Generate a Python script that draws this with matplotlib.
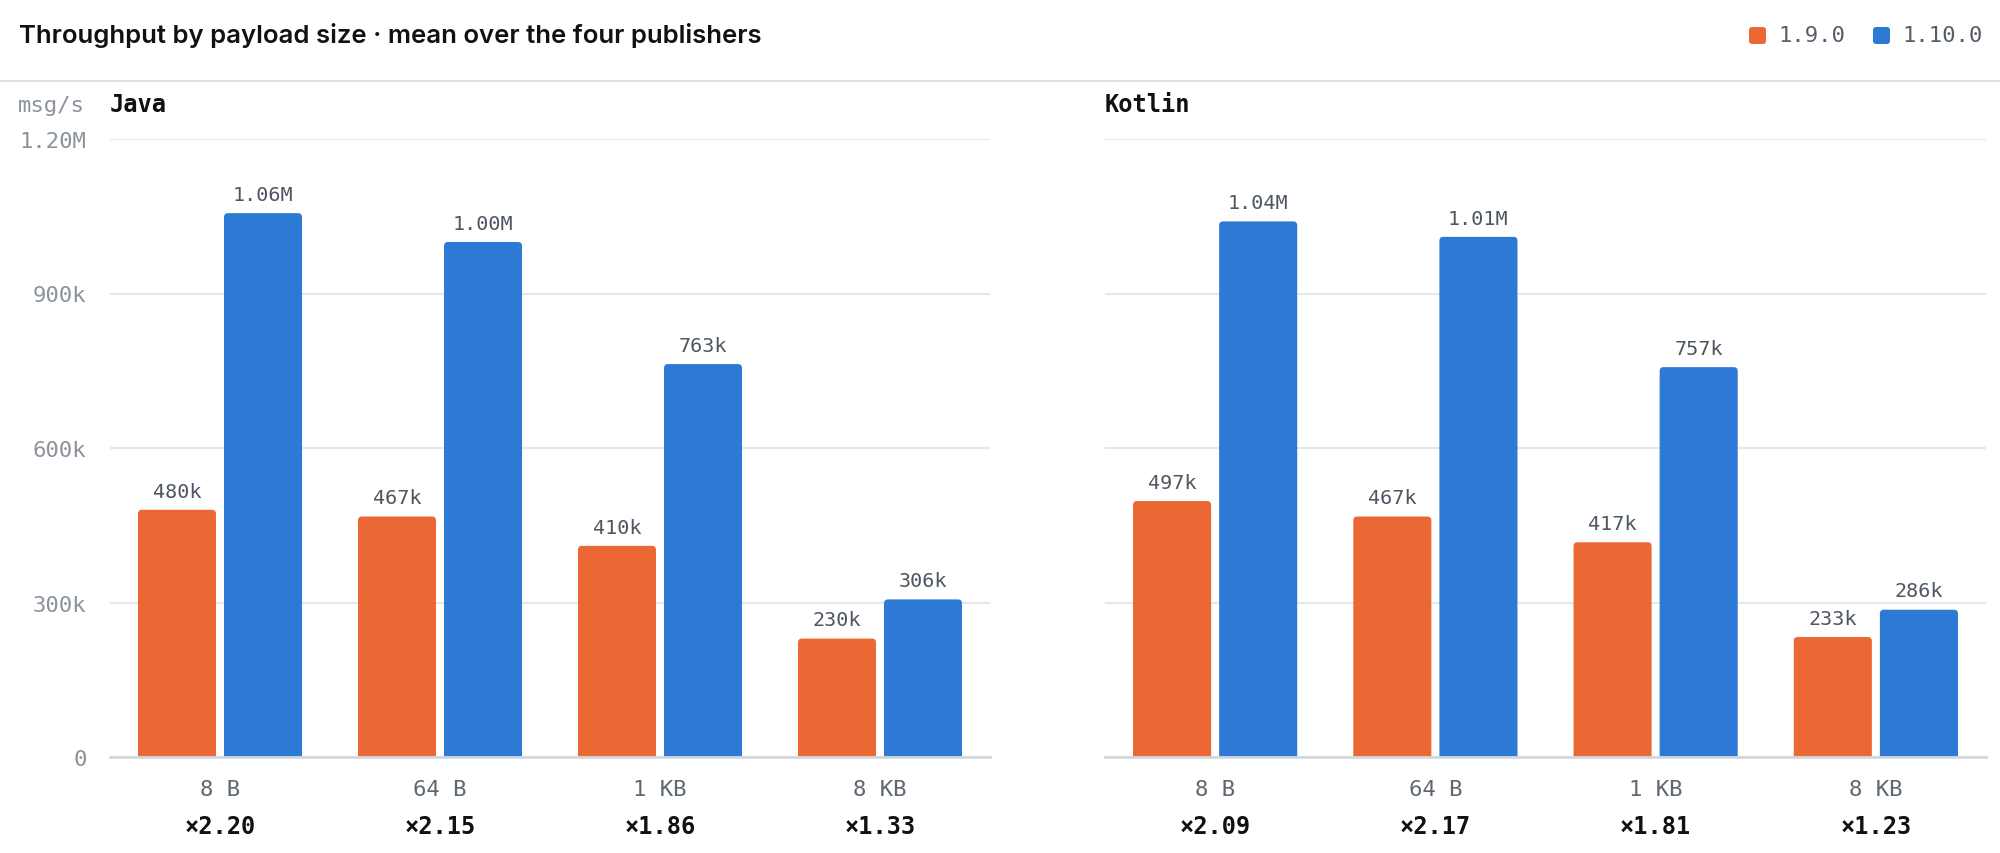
import matplotlib
matplotlib.use("Agg")
import matplotlib.pyplot as plt
from matplotlib.patches import FancyBboxPatch
from matplotlib.lines import Line2D
import numpy as np

# data
sizes = ["8 B", "64 B", "1 KB", "8 KB"]
versions = ["1.9.0", "1.10.0"]
java_old = [480e3, 467e3, 410e3, 230e3]
java_new = [1.056e6, 1.00e6, 763e3, 306e3]
java_ratio = [2.20, 2.15, 1.86, 1.33]
kotlin_old = [497e3, 467e3, 417e3, 233e3]
kotlin_new = [1.04e6, 1.01e6, 757e3, 286e3]
kotlin_ratio = [2.09, 2.17, 1.81, 1.23]
yticks = [0, 300e3, 600e3, 900e3, 1.2e6]
ytick_labels = ["0", "300k", "600k", "900k", "1.20M"]

ORANGE = "#eb6835"
BLUE = "#2c79d6"
MONO = "DejaVu Sans Mono"
W, H = 2000, 854


def fmt(v):
    if v >= 1e6:
        return f"{v/1e6:.2f}M"
    return f"{v/1e3:.0f}k"


def rounded_bars(ax, xs, vals, width, color):
    # bars with ~4px rounded top corners
    bw = ax.get_position().width * W
    bh = ax.get_position().height * H
    x_per_px = 4.0 / bw
    y_per_px = 1.2e6 / bh
    r = 4 * x_per_px
    aspect = y_per_px / x_per_px
    ry = 4 * y_per_px
    for x, v in zip(xs, vals):
        p = FancyBboxPatch((x - width / 2, -ry), width, v + ry,
                           boxstyle=f"round,pad=0,rounding_size={r}",
                           mutation_aspect=aspect, fc=color, ec="none", zorder=3)
        ax.add_patch(p)
        ax.annotate(fmt(v), (x, v), xytext=(0, 13.5), textcoords="offset points",
                    ha="center", va="center", fontsize=14.5, family=MONO,
                    color="#4e5661", zorder=4)


def draw_panel(ax, name, old, new, ratio, show_y):
    x = np.arange(len(sizes))
    off = 0.1955
    wid = 0.3545
    rounded_bars(ax, x - off, old, wid, ORANGE)
    rounded_bars(ax, x + off, new, wid, BLUE)
    ax.set_xlim(-0.5, len(sizes) - 0.5)
    ax.set_ylim(0, 1.2e6)
    ax.set_yticks(yticks)
    ax.grid(axis="y", color="#e4e7eb", lw=1.5, zorder=0)
    ax.set_axisbelow(True)
    for s in ["top", "right", "left"]:
        ax.spines[s].set_visible(False)
    ax.spines["bottom"].set_color("#d3d8de")
    ax.spines["bottom"].set_linewidth(2)
    ax.spines["bottom"].set_zorder(5)
    ax.tick_params(length=0)
    if show_y:
        ax.set_yticklabels(ytick_labels, family=MONO, fontsize=16, color="#8b939c")
        ax.tick_params(axis="y", pad=17)
    else:
        ax.set_yticklabels([])
    ax.set_xticks(x)
    ax.set_xticklabels([])
    for xi, lab, rt in zip(x, sizes, ratio):
        ax.annotate(lab, (xi, 0), xycoords=("data", "axes fraction"),
                    xytext=(0, -23), textcoords="offset points", ha="center",
                    va="center", fontsize=16, family=MONO, color="#5f6772")
        ax.annotate(f"\u00d7{rt:.2f}", (xi, 0), xycoords=("data", "axes fraction"),
                    xytext=(0, -49.5), textcoords="offset points", ha="center",
                    va="center", fontsize=17, family=MONO, weight="bold",
                    color="#111111")
    ax.text(0, 1 + 35 / (ax.get_position().height * H), name, transform=ax.transAxes,
            ha="left", va="center", fontsize=17, family=MONO, weight="bold",
            color="#111111")


fig = plt.figure(figsize=(W / 100, H / 100), dpi=100)
fig.patch.set_facecolor("white")

ax1 = fig.add_axes([110 / W, 96 / H, 880 / W, 618 / H])
ax2 = fig.add_axes([1105 / W, 96 / H, 881 / W, 618 / H])
draw_panel(ax1, "Java", java_old, java_new, java_ratio, True)
draw_panel(ax2, "Kotlin", kotlin_old, kotlin_new, kotlin_ratio, False)

fig.text(19 / W, 1 - 36 / H, "Throughput by payload size \u00b7 mean over the four publishers",
         ha="left", va="center", fontsize=18.5, family=["Inter", "DejaVu Sans"],
         weight="semibold", color="#111111")
fig.text(85 / W, 1 - 106 / H, "msg/s", ha="right", va="center", fontsize=16,
         family=MONO, color="#8b939c")

fig.add_artist(Line2D([0, 1], [1 - 82 / H, 1 - 82 / H], transform=fig.transFigure,
                      color="#dfe3e8", lw=1.5))

# legend
leg_x = [1749, 1873]
for lx, lab, col in zip(leg_x, versions, [ORANGE, BLUE]):
    sq = FancyBboxPatch((lx / W, 1 - 45 / H), 17 / W, 17 / H,
                        boxstyle="round,pad=0,rounding_size=0.0015",
                        mutation_aspect=W / H, transform=fig.transFigure,
                        fc=col, ec="none")
    fig.add_artist(sq)
    fig.text((lx + 29) / W, 1 - 36 / H, lab, ha="left", va="center", fontsize=16,
             family=MONO, color="#555e6a")

fig.savefig("out.png", dpi=100, facecolor="white")
